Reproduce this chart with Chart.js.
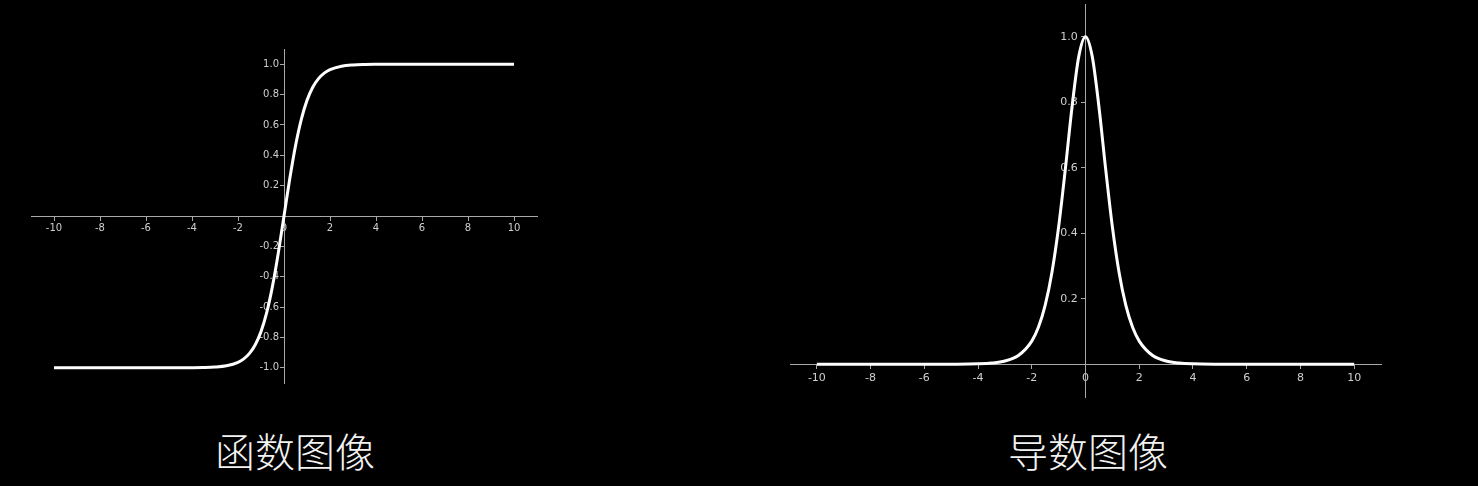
<!DOCTYPE html>
<html>
<head>
<meta charset="utf-8">
<script src="https://cdn.jsdelivr.net/npm/chart.js@4/dist/chart.umd.min.js"></script>
<style>
  html, body { margin: 0; padding: 0; background: #000; }
  body { width: 1478px; height: 486px; position: relative; overflow: hidden; }
  .box { position: absolute; }
  .cap {
    position: absolute; top: 423px; width: 240px; text-align: center;
    font-family: "Noto Sans CJK SC", sans-serif; font-weight: 300;
    font-size: 40px; color: #f2f2f2; line-height: 54px;
  }
</style>
</head>
<body>
<!-- each canvas is the plot area plus a fixed 12px layout padding -->
<div class="box" style="left:19px;top:37px;width:530px;height:358px;"><canvas id="fnCanvas" width="530" height="358"></canvas></div>
<div class="box" style="left:778px;top:-8px;width:615px;height:417px;"><canvas id="derivCanvas" width="615" height="417"></canvas></div>
<div class="cap" style="left:175px;">函数图像</div>
<div class="cap" style="left:968px;">导数图像</div>
<script>
// x samples
var xs = [-10, -8, -6, -5, -4, -3.5, -3, -2.5, -2, -1.75, -1.5, -1.25, -1, -0.75, -0.5, -0.25,
          0, 0.25, 0.5, 0.75, 1, 1.25, 1.5, 1.75, 2, 2.5, 3, 3.5, 4, 5, 6, 8, 10];
// left: function (tanh-like)
var fnVals = [-1, -1, -1, -0.9999, -0.9993, -0.9982, -0.9951, -0.9866, -0.964, -0.9414, -0.9051, -0.8483, -0.7616, -0.6351, -0.4621, -0.2449,
              0, 0.2449, 0.4621, 0.6351, 0.7616, 0.8483, 0.9051, 0.9414, 0.964, 0.9866, 0.9951, 0.9982, 0.9993, 0.9999, 1, 1, 1];
// right: derivative
var derivVals = [0, 0, 0, 0.0002, 0.0013, 0.0036, 0.0099, 0.0266, 0.0707, 0.1137, 0.1807, 0.2804, 0.42, 0.5966, 0.7864, 0.94,
                 1, 0.94, 0.7864, 0.5966, 0.42, 0.2804, 0.1807, 0.1137, 0.0707, 0.0266, 0.0099, 0.0036, 0.0013, 0.0002, 0, 0, 0];

var xTicks = [-10, -8, -6, -4, -2, 0, 2, 4, 6, 8, 10];
var fnYTicks = [-1.0, -0.8, -0.6, -0.4, -0.2, 0.2, 0.4, 0.6, 0.8, 1.0];
var derivYTicks = [0.2, 0.4, 0.6, 0.8, 1.0];

var axisColor = '#a8a8a8';
var labelColor = '#cfcfcf';

function pts(ys) {
  let out = [];
  for (let i = 0; i < xs.length; i++) {
    out.push({x: xs[i], y: ys[i]});
  }
  return out;
}

// gap: trailing space so the y labels sit off the centred axis line
function makeChart(id, vals, yMin, yMax, yTicks, fontSize, pad, gap) {
  var ctx = document.getElementById(id).getContext('2d');
  return new Chart(ctx, {
    type: 'line',
    data: {
      datasets: [{
        data: pts(vals),
        borderColor: '#ffffff',
        borderWidth: 3,
        pointRadius: 0,
        pointHoverRadius: 0,
        cubicInterpolationMode: 'monotone',
        fill: false
      }]
    },
    options: {
      responsive: false,
      animation: false,
      layout: { padding: 12, autoPadding: false },
      plugins: { legend: { display: false }, tooltip: { enabled: false } },
      scales: {
        x: {
          type: 'linear',
          min: -11,
          max: 11,
          position: { y: 0 },
          afterBuildTicks: function(s) { s.ticks = xTicks.map(v => ({value: v})); },
          grid: { drawOnChartArea: false, drawTicks: true, tickLength: 4, color: axisColor },
          border: { color: axisColor, width: 1 },
          ticks: {
            color: labelColor, padding: pad, maxRotation: 0, autoSkip: false,
            font: { family: 'DejaVu Sans', size: fontSize },
            callback: function(v) { return String(v); }
          }
        },
        y: {
          type: 'linear',
          min: yMin,
          max: yMax,
          position: { x: 0 },
          afterBuildTicks: function(s) { s.ticks = yTicks.map(v => ({value: v})); },
          grid: { drawOnChartArea: false, drawTicks: true, tickLength: 4, color: axisColor },
          border: { color: axisColor, width: 1 },
          ticks: {
            color: labelColor, padding: 2, autoSkip: false,
            font: { family: 'DejaVu Sans', size: fontSize },
            callback: function(v) { return v.toFixed(1) + gap; }
          }
        }
      }
    }
  });
}

makeChart('fnCanvas', fnVals, -1.1, 1.1, fnYTicks, 10, 2, '\u2002');
makeChart('derivCanvas', derivVals, -0.1, 1.1, derivYTicks, 11, 3, '\u2002\u2009');
</script>
</body>
</html>
